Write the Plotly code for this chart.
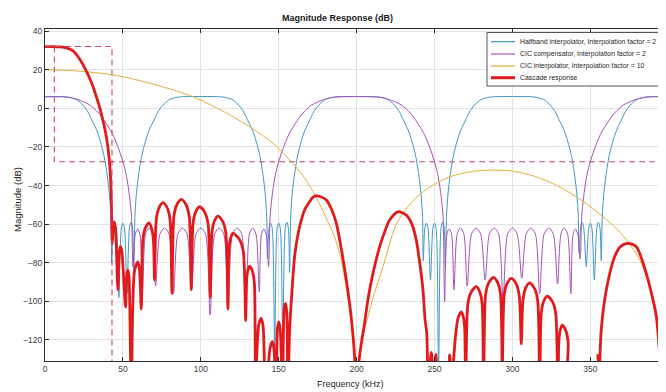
import plotly.graph_objects as go

# ---------------- data ----------------
# (frequency kHz, magnitude dB)
halfband_pts = [
    (0, 6.02), (12, 6.0), (16, 5.6), (20, 4.6), (23.5, 2.4), (26, 0.0), (28, -2.5), (30, -6), (33, -11),
    (35.5, -17), (38, -25), (40, -35), (41.3, -44), (42.3, -56),
    (42.8, -80), (43.8, -62), (44.8, -59.5), (45.8, -62), (47.4, -98), (49.0, -62), (50.0, -59.5),
    (51.0, -62), (52.6, -96), (54.2, -62), (55.2, -59), (56.2, -62), (57.0, -84), (57.7, -56),
    (58.7, -44), (60, -35), (62, -25), (64.5, -17), (67, -11), (70, -6), (72, -2.5), (74, 0.0),
    (76.5, 2.4), (80, 4.6), (84, 5.6), (88, 6.0), (112, 6.0), (116, 5.6), (120, 4.6), (123.5, 2.4),
    (126, 0.0), (128, -2.5), (130, -6), (133, -11), (135.5, -17), (138, -25), (140, -35), (141.3, -44),
    (142.3, -56),
    (142.8, -78), (143.8, -62), (144.8, -59.5), (145.8, -62), (147.4, -125), (149.0, -62), (150.0, -59.5),
    (151.0, -62), (152.6, -120), (154.2, -62), (155.2, -59), (156.2, -62), (157.0, -85), (157.7, -56),
    (158.7, -44), (160, -35), (162, -25), (164.5, -17), (167, -11), (170, -6), (172, -2.5), (174, 0.0),
    (176.5, 2.4), (180, 4.6), (184, 5.6), (188, 6.0), (212, 6.0), (216, 5.6), (220, 4.6), (223.5, 2.4),
    (226, 0.0), (228, -2.5), (230, -6), (233, -11), (235.5, -17), (238, -25), (240, -35), (241.3, -44),
    (242.3, -56),
    (242.8, -79), (243.8, -62), (244.8, -59.5), (245.8, -62), (247.4, -89), (249.0, -62), (250.0, -59.5),
    (251.0, -62), (252.6, -135), (254.2, -62), (255.2, -59), (256.2, -62), (257.0, -82), (257.7, -56),
    (258.7, -44), (260, -35), (262, -25), (264.5, -17), (267, -11), (270, -6), (272, -2.5), (274, 0.0),
    (276.5, 2.4), (280, 4.6), (284, 5.6), (288, 6.0), (312, 6.0), (316, 5.6), (320, 4.6), (323.5, 2.4),
    (326, 0.0), (328, -2.5), (330, -6), (333, -11), (335.5, -17), (338, -25), (340, -35), (341.3, -44),
    (342.3, -56),
    (342.8, -75), (343.8, -62), (344.8, -59), (345.8, -62), (347.4, -82), (349.0, -62), (350.0, -59.5),
    (351.0, -62), (352.6, -89), (354.2, -62), (355.2, -59), (356.2, -62), (357.0, -79), (357.7, -56),
    (358.7, -44), (360, -35), (362, -25), (364.5, -17), (367, -11), (370, -6), (372, -2.5), (374, 0.0),
    (376.5, 2.4), (380, 4.6), (384, 5.6), (388, 6.0), (400, 6.02),
]

cic_comp_pts = [
    (0, 6.0), (10, 6.0), (15, 5.7), (20, 4.8), (25, 3.3), (29, 1.6), (33, -1.2), (36, -4), (40, -8.7),
    (43.5, -13.5), (47.5, -21.5), (50.5, -29), (52.5, -36), (54.3, -46), (55.5, -56),
    (56.5, -82), (58.0, -65), (59.5, -62.5), (61.0, -65.5), (62.5, -96), (64.6, -65), (66.7, -62),
    (68.8, -65), (71.0, -92), (73.8, -65), (76.7, -62), (79.6, -65), (82.5, -96), (85.3, -65), (88.2, -62),
    (91.1, -65), (94.0, -94), (97.0, -65), (100.0, -62), (103.0, -65), (106.0, -107), (108.9, -65),
    (111.8, -62), (114.7, -65), (117.5, -103), (120.4, -65), (123.3, -62), (126.2, -65), (129.0, -110),
    (131.2, -65), (133.3, -62), (135.4, -65), (137.5, -95), (139.0, -65), (140.5, -62.5), (142.0, -65.5),
    (143.5, -82),
    (144.5, -56), (145.7, -46), (147.5, -36), (149.5, -29), (152.5, -21.5), (156.5, -13.5), (160, -8.7),
    (164, -4), (167, -1.2), (171, 1.6), (175, 3.3), (180, 4.8), (185, 5.7), (190, 6.0), (210, 6.0),
    (215, 5.7), (220, 4.8), (225, 3.3), (229, 1.6), (233, -1.2), (236, -4), (240, -8.7), (243.5, -13.5),
    (247.5, -21.5), (250.5, -29), (252.5, -36), (254.3, -46), (255.5, -56),
    (256.5, -100), (258.0, -65), (259.5, -62.5), (261.0, -65.5), (262.5, -94), (264.6, -65), (266.7, -62),
    (268.8, -65), (271.0, -92), (273.8, -65), (276.7, -62), (279.6, -65), (282.5, -89), (285.3, -65),
    (288.2, -62), (291.1, -65), (294.0, -99), (297.0, -65), (300.0, -62), (303.0, -65), (306.0, -88),
    (308.9, -65), (311.8, -62), (314.7, -65), (317.5, -96), (320.4, -65), (323.3, -62), (326.2, -65),
    (329.0, -91), (331.2, -65), (333.3, -62), (335.4, -65), (337.5, -96), (339.0, -65), (340.5, -62.5),
    (342.0, -65.5), (343.5, -78),
    (344.5, -56), (345.7, -46), (347.5, -36), (349.5, -29), (352.5, -21.5), (356.5, -13.5), (360, -8.7),
    (364, -4), (367, -1.2), (371, 1.6), (375, 3.3), (380, 4.8), (385, 5.7), (390, 6.0), (400, 6.0),
]

cic_interp_pts = [
    (0, 20.0), (10, 19.8), (20, 19.4), (30, 18.7), (42, 17.5), (55, 15.5), (74, 11.5), (95, 6.0),
    (115, -1.8), (133, -10.4), (147, -18.5), (159, -28.5), (167, -36.5), (174, -46), (180, -56),
    (186, -67), (190, -78), (194, -96), (197, -112), (199, -130), (200, -170),
    (201, -138), (203, -122), (206, -112), (211, -97), (217, -82), (225.5, -60), (235, -49), (243, -43),
    (252, -38.5), (260, -35.4), (275, -32.6), (288, -32.0), (300, -32.5), (315, -35.4), (330, -40.5),
    (345, -48), (358, -56), (367, -62.5), (375, -70), (382, -79), (388, -92), (392, -104), (395.5, -128),
    (398, -165),
]

cascade_pts = [
    (0, 32.0), (5, 32.0), (10, 31.8), (14, 31.2), (18, 29.8), (21, 27.0), (24.3, 22.8), (27, 18.5),
    (29.5, 14.0), (32, 8.5), (34.5, 2.0), (36.5, -4.0), (38.5, -11.0), (40, -18.0), (41.2, -26.0),
    (42, -35.0), (42.6, -48.0), (43.2, -70.0),
    (43.8, -61), (44.4, -58.8), (45.2, -62), (46.8, -94),
    (47.7, -74), (48.5, -71.7), (49.3, -74), (51.7, -103),
    (52.5, -86), (53.2, -83.8), (53.9, -87), (55.4, -150),
    (57.5, -84), (59.7, -79.5), (60.7, -84), (61.8, -104),
    (62.8, -68.3), (64.25, -62.3), (66.7, -59.3), (68.5, -62.3), (69.6, -68.3), (70.3, -89),
    (71.4, -57.9), (73.0, -51.9), (75.7, -48.9), (78.6, -51.9), (80.3, -57.9), (81.5, -96),
    (82.7, -56.2), (84.5, -50.2), (87.5, -47.2), (90.7, -50.2), (92.6, -56.2), (93.9, -94),
    (95.0, -60.0), (96.55, -54.0), (99.2, -51.0), (102.65, -54.0), (104.7, -60.0), (106.1, -98),
    (107.1, -64.8), (108.55, -58.8), (111.0, -55.8), (114.2, -58.8), (116.1, -64.8), (117.4, -104),
    (118.0, -73.8), (119.0, -67.8), (120.6, -64.8), (124.7, -67.8), (127.2, -73.8), (128.8, -110),
    (129.3, -90.7), (130.05, -84.7), (131.3, -81.7), (133.25, -84.7), (134.4, -90.7), (135.2, -140),
    (137.2, -112), (138.8, -108.8), (140.0, -113), (141.6, -150),
    (144.5, -124), (145.9, -120.9), (147.0, -125), (148.2, -150),
    (149.2, -114), (150.1, -110.6), (151.0, -115), (152.5, -150),
    (153.5, -104), (154.4, -101), (155.2, -106), (155.9, -150),
    (157.0, -115), (158.5, -95), (160.2, -76.9), (162.2, -66), (164.5, -57.9), (167, -52), (169.8, -48.4),
    (172, -46), (174.1, -45.4), (177, -45.8), (180.6, -47.5), (184, -52.5), (187, -59.6), (190, -72),
    (193.4, -89), (196.5, -108), (198.7, -128.7), (200, -165),
    (201, -135), (203, -122), (205.1, -111.4), (207.5, -98), (210.5, -85.5), (214.8, -71.7), (218, -64),
    (221.2, -57.9), (226.5, -53.6), (231.9, -55.3), (235.5, -60), (238.3, -68.2), (240.5, -80), (242.6, -94),
    (244.0, -110), (245.0, -116), (246.0, -140), (248.0, -126.5), (249.2, -140), (251.0, -127.5),
    (252.2, -140), (258.5, -140), (259.7, -127.8), (261.0, -140),
    (263.5, -118), (265.2, -108.4), (267.2, -105.4), (268.6, -108.4), (269.4, -114.4), (270.0, -150),
    (271.4, -101.4), (273.4, -95.4), (276.8, -92.4), (279.2, -95.4), (280.6, -101.4), (281.5, -150),
    (282.8, -96.6), (284.7, -90.6), (287.9, -87.6), (290.7, -90.6), (292.4, -96.6), (293.5, -135),
    (294.7, -97.1), (296.4, -91.1), (299.3, -88.1), (302.5, -91.1), (304.4, -97.1), (305.7, -122),
    (306.8, -99.4), (308.35, -93.4), (311.0, -90.4), (314.25, -93.4), (316.2, -99.4), (317.5, -150),
    (318.5, -106.3), (319.95, -100.3), (322.4, -97.3), (325.8, -100.3), (327.8, -106.3), (329.2, -150),
    (329.8, -121.3), (330.6, -115.3), (332.0, -112.3), (334.35, -115.3), (335.8, -121.3), (336.7, -150),
    (354.0, -150), (354.9, -128), (355.6, -140),
    (357.0, -114.8), (360.3, -94), (365.6, -76.9), (369.5, -71.5), (374.1, -70), (379.5, -71.7),
    (385.9, -85.5), (389.0, -95), (392.4, -108), (395.6, -140), (398, -165),
]

# specification mask (dashed)
mask_f = [0, 43, 43, None, 6, 6, 400]
mask_db = [32, 32, -135, None, 32, -27.7, -27.7]

series_names = [
    "Halfband interpolator, Interpolation factor = 2",
    "CIC compensator, Interpolation factor = 2",
    "CIC interpolator, Interpolation factor = 10",
    "Cascade response",
]
series_colors = ["#3f96c6", "#a652ba", "#e2b03a", "#e31a1c"]
series_widths = [1, 1, 1, 2.8]

x_ticks = [0, 50, 100, 150, 200, 250, 300, 350, 400]
y_ticks = [-120, -100, -80, -60, -40, -20, 0, 20, 40]

title_text = "Magnitude Response (dB)"
x_title = "Frequency (kHz)"
y_title = "Magnitude (dB)"

# ---------------------------------------------------------------------
FONT = "Liberation Sans, Arial, sans-serif"

fig = go.Figure()
all_pts = [halfband_pts, cic_comp_pts, cic_interp_pts, cascade_pts]
for pts, name, col, w in zip(all_pts, series_names, series_colors, series_widths):
    fig.add_trace(go.Scatter(
        x=[p[0] for p in pts], y=[p[1] for p in pts], mode="lines", name=name,
        line=dict(color=col, width=w, shape="spline", smoothing=0.8), showlegend=False,
        hoverinfo="skip"))

fig.add_trace(go.Scatter(x=mask_f, y=mask_db, mode="lines", showlegend=False,
                         line=dict(color="#c44a66", width=1.1, dash="6px,4px"), hoverinfo="skip"))

# The page body has an 8 px margin, so the figure is sized to fill the rest of the window.
OFF = 8
W, H = 666 - OFF, 392 - OFF
ML, MR, MT, MB = 45 - OFF, 1, 29 - OFF, 31
PW, PH = W - ML - MR, H - MT - MB


def px_x(px):  # window pixel -> paper x
    return (px - OFF - ML) / PW


def px_y(py):  # window pixel -> paper y
    return (H - MB - (py - OFF)) / PH


shapes = []
annotations = []
# compact legend box (drawn like the reference)
shapes.append(dict(type="rect", xref="paper", yref="paper", x0=px_x(487), x1=px_x(664.5),
                   y0=px_y(86), y1=px_y(32.5), line=dict(color="#555555", width=1),
                   fillcolor="white", layer="above"))
row_y = [41.7, 54.0, 66.0, 77.7]
for name, col, w, ry in zip(series_names, series_colors, series_widths, row_y):
    shapes.append(dict(type="line", xref="paper", yref="paper", x0=px_x(491), x1=px_x(515),
                       y0=px_y(ry), y1=px_y(ry), line=dict(color=col, width=3 if w > 2 else 1.2),
                       layer="above"))
    annotations.append(dict(text=name, xref="paper", yref="paper", x=px_x(518), y=px_y(ry),
                            xanchor="left", yanchor="middle", showarrow=False,
                            font=dict(family=FONT, size=6.9, color="#262626")))

annotations.append(dict(text="<b>" + title_text + "</b>", xref="paper", yref="paper", x=px_x(337),
                        y=px_y(18), xanchor="center", yanchor="middle", showarrow=False,
                        font=dict(family=FONT, size=9, color="#1a1a1a")))
annotations.append(dict(text=x_title, xref="paper", yref="paper", x=px_x(350), y=px_y(384),
                        xanchor="center", yanchor="middle", showarrow=False,
                        font=dict(family=FONT, size=9, color="#262626")))
annotations.append(dict(text=y_title, xref="paper", yref="paper", x=px_x(17), y=px_y(200),
                        xanchor="center", yanchor="middle", showarrow=False, textangle=-90,
                        font=dict(family=FONT, size=9.5, color="#262626")))

axis_common = dict(showline=True, linecolor="#2b2b2b", linewidth=1, mirror="ticks", ticks="inside",
                   ticklen=4, tickcolor="#2b2b2b", showgrid=True, gridcolor="#e2e2e2", gridwidth=1,
                   zeroline=False, tickfont=dict(family=FONT, size=8.5, color="#404040"))

fig.update_layout(
    width=W, height=H, margin=dict(l=ML, r=MR, t=MT, b=MB),
    paper_bgcolor="white", plot_bgcolor="white",
    xaxis=dict(range=[0, PW / 1.558], tickvals=x_ticks, **axis_common),
    yaxis=dict(range=[-130.9, 41.1], tickvals=y_ticks, **axis_common),
    shapes=shapes, annotations=annotations, showlegend=False,
)

fig.write_html("out.html")
